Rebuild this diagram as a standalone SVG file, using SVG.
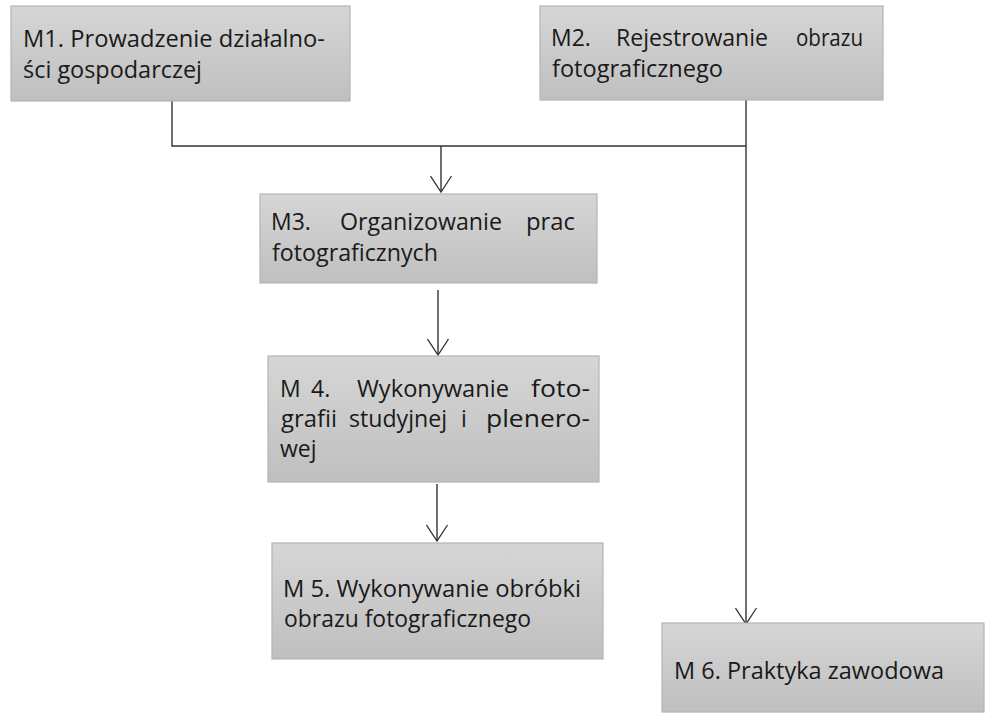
<svg xmlns="http://www.w3.org/2000/svg" width="989" height="713" viewBox="0 0 989 713">
<defs>
<linearGradient id="g" x1="0" y1="0" x2="0" y2="1">
<stop offset="0" stop-color="#d6d6d6"/>
<stop offset="1" stop-color="#bfbfbf"/>
</linearGradient>
<marker id="ah" viewBox="-1 -1 19 23" refX="16" refY="10.5" markerWidth="19" markerHeight="23" markerUnits="userSpaceOnUse" orient="auto">
<path d="M0,0 L16,10.5 L0,21" fill="none" stroke="#333" stroke-width="1.3"/>
</marker>
<style>
.box{fill:url(#g);stroke:#b4b4b4;stroke-width:1.2}
.t{font-family:"Open Sans","Noto Sans","Liberation Sans",sans-serif;font-size:23px;fill:#1a1a1a}
.c{fill:none;stroke:#333;stroke-width:1.4}
</style>
</defs>
<rect width="989" height="713" fill="#fff"/>
<g id="connectors">
<polyline class="c" points="172,101 172,146 746,146"/>
<line class="c" x1="746" y1="100" x2="746" y2="624" marker-end="url(#ah)"/>
<line class="c" x1="441" y1="146" x2="441" y2="192" marker-end="url(#ah)"/>
<line class="c" x1="438" y1="290" x2="438" y2="355" marker-end="url(#ah)"/>
<line class="c" x1="437" y1="484" x2="437" y2="541" marker-end="url(#ah)"/>
</g>
<g id="m1">
<rect class="box" x="11" y="6" width="339" height="95"/>
<text class="t" x="23" y="47" textLength="302" lengthAdjust="spacingAndGlyphs">M1. Prowadzenie działalno-</text>
<text class="t" x="23" y="78" textLength="179" lengthAdjust="spacingAndGlyphs">ści gospodarczej</text>
</g>
<g id="m2">
<rect class="box" x="540" y="6" width="343" height="94"/>
<text class="t" x="551" y="46">M2.</text>
<text class="t" x="616" y="46" textLength="152" lengthAdjust="spacingAndGlyphs">Rejestrowanie</text>
<text class="t" x="796" y="46" textLength="67" lengthAdjust="spacingAndGlyphs">obrazu</text>
<text class="t" x="552" y="77" textLength="171" lengthAdjust="spacingAndGlyphs">fotograficznego</text>
</g>
<g id="m3">
<rect class="box" x="260" y="194" width="337" height="89"/>
<text class="t" x="271" y="230">M3.</text>
<text class="t" x="340" y="230" textLength="162" lengthAdjust="spacingAndGlyphs">Organizowanie</text>
<text class="t" x="526" y="230" textLength="49" lengthAdjust="spacingAndGlyphs">prac</text>
<text class="t" x="272" y="261" textLength="166" lengthAdjust="spacingAndGlyphs">fotograficznych</text>
</g>
<g id="m4">
<rect class="box" x="268" y="356" width="331" height="126"/>
<text class="t" x="280" y="397">M</text>
<text class="t" x="311" y="397">4.</text>
<text class="t" x="357" y="397" textLength="152" lengthAdjust="spacingAndGlyphs">Wykonywanie</text>
<text class="t" x="531" y="397" textLength="59" lengthAdjust="spacingAndGlyphs">foto-</text>
<text class="t" x="281" y="427" textLength="56" lengthAdjust="spacingAndGlyphs">grafii</text>
<text class="t" x="349" y="427" textLength="98" lengthAdjust="spacingAndGlyphs">studyjnej</text>
<text class="t" x="461" y="427">i</text>
<text class="t" x="486" y="427" textLength="104" lengthAdjust="spacingAndGlyphs">plenero-</text>
<text class="t" x="280" y="457">wej</text>
</g>
<g id="m5">
<rect class="box" x="272" y="543" width="331" height="116"/>
<text class="t" x="283" y="597" textLength="298" lengthAdjust="spacingAndGlyphs">M 5. Wykonywanie obróbki</text>
<text class="t" x="284" y="627" textLength="247" lengthAdjust="spacingAndGlyphs">obrazu fotograficznego</text>
</g>
<g id="m6">
<rect class="box" x="662" y="623" width="322" height="89"/>
<text class="t" x="674" y="679" textLength="270" lengthAdjust="spacingAndGlyphs">M 6. Praktyka zawodowa</text>
</g>
</svg>
